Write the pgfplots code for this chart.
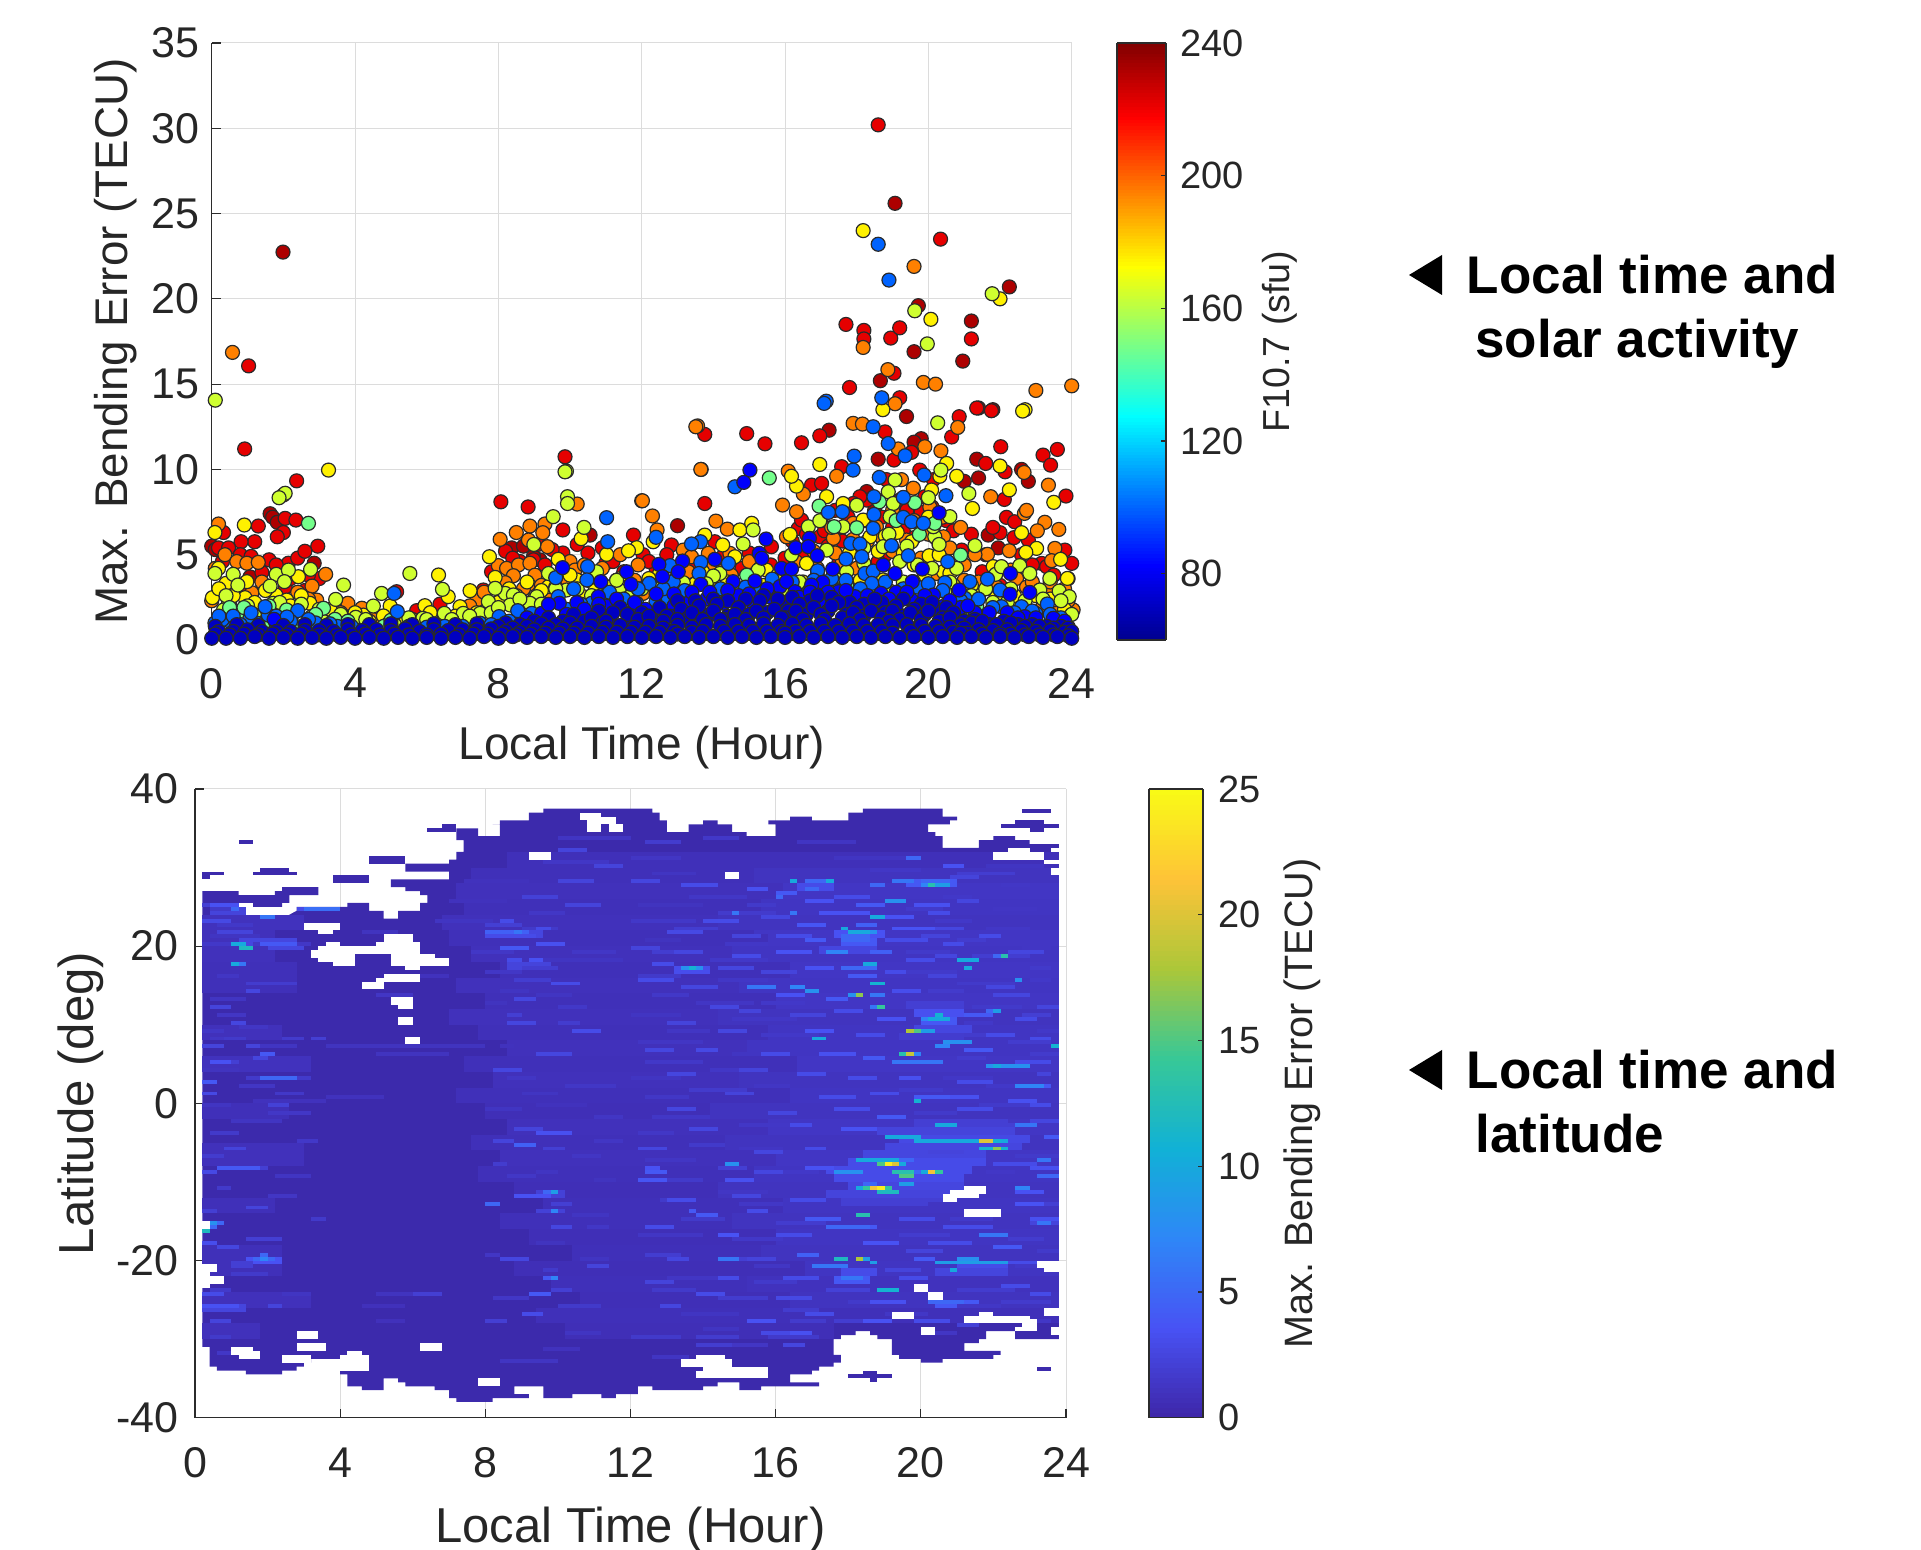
\documentclass[border=0pt]{standalone}
\usepackage{fontspec}
\setmainfont{Liberation Sans}
\usepackage{pgfplots}
\pgfplotsset{compat=1.18}
\definecolor{txt}{HTML}{262626}
\definecolor{axc}{HTML}{2B2B2B}
\definecolor{grc}{HTML}{DCDCDC}
\definecolor{edgec}{HTML}{2A2A2A}
\definecolor{basec}{HTML}{3C2AAC}
\pgfplotsset{
 colormap={matjet}{rgb255(0)=(0,0,143); rgb255(1)=(0,0,255); rgb255(3)=(0,255,255); rgb255(5)=(255,255,0); rgb255(7)=(255,0,0); rgb255(8)=(128,0,0)},
 colormap={parula}{rgb255=(62,38,168) rgb255=(72,82,244) rgb255=(46,135,247) rgb255=(17,177,214) rgb255=(55,200,151) rgb255=(171,199,57) rgb255=(254,195,56) rgb255=(249,251,21)},
 mycommon/.style={scale only axis, axis lines=left, axis line style={-,line width=.7pt,color=axc},
  tick style={color=axc,line width=.6pt}, tick align=inside, major tick length=4.5pt,
  grid=major, grid style={color=grc,line width=.5pt},
  tick label style={font=\fontsize{21.5}{25}\selectfont,color=txt},
  /pgf/number format/assume math mode=true, clip=false},
 mycbar/.style={axis lines=box, axis line style={line width=.6pt,color=axc}, tick style={color=axc,line width=.6pt},
  tick align=inside, major tick length=2.5pt, tick label style={font=\fontsize{19}{23}\selectfont,color=txt},
  /pgf/number format/assume math mode=true, xtick=\empty, ytick pos=right, yticklabel pos=right,
  at={(parent axis.north east)}, anchor=north west},
 mypts/.style={scatter, only marks, mark=*, mark size=3.5pt, scatter/use mapped color={draw=edgec,fill=mapped color}, mark options={line width=.6pt}},
 mycell/.style={scatter, only marks, mark=cell, forget plot},
}
\pgfdeclareplotmark{cell}{%
 \pgfmathsetlengthmacro\cwd{\cw*18.146pt}%
 \pgfmathsetlengthmacro\chd{\ch*3.93pt}%
 \pgfpathrectangle{\pgfpointorigin}{\pgfpoint{\cwd}{\chd}}%
 \pgfusepathqfill}
\begin{document}
\begin{tikzpicture}
\path[use as bounding box] (0pt,0pt) rectangle (960.5pt,775pt);
% ---------------- top scatter
\begin{axis}[mycommon, at={(105.85pt,455pt)}, anchor=south west, width=430pt, height=298.5pt,
 xmin=0,xmax=24,ymin=0,ymax=35, xtick={0,4,...,24}, ytick={0,5,...,35},
 xticklabel style={yshift=-10.5pt}, yticklabel style={xshift=-2.7pt},
 xlabel={Local Time (Hour)}, ylabel={Max. Bending Error (TECU)},
 every axis x label/.append style={at={(axis description cs:.5,-.18)},anchor=center,font=\fontsize{23}{27}\selectfont,text=txt},
 every axis y label/.append style={at={(axis description cs:-.1115,.5)},anchor=center,rotate=0,font=\fontsize{22.9}{27}\selectfont,text=txt},
 colormap name=matjet, point meta min=60, point meta max=240,
 colorbar sampled, colorbar shift/.style={xshift=22.65pt},
 colorbar style={mycbar, samples=181, width=24.5pt, ytick={80,120,160,200,240}, yticklabel style={xshift=3.7pt}, ylabel={F10.7 (sfu)},
  every axis y label/.style={at={(axis description cs:3.33,.5)},rotate=90,anchor=center,font=\fontsize{18.8}{23}\selectfont,text=txt}},
]
\addplot[mypts,point meta=232] coordinates {(1.99,22.74)(19.07,25.6)(22.26,20.7)(19.72,19.6)(19.6,16.9)(21.2,18.7)(20.96,16.35)(18.66,15.2)(21.4,13.6)(21.8,13.5)
(1.63,7.4)(1.7,7.2)(1.83,6.9)(2.86,4.5)(1.07,3.7)(0,5.5)(.1,5.3)(8.37,5.4)(8.7,5.5)(9.16,4.7)(8.98,4.9)(10.56,6.15)(13,6.7)(19.39,13.1)(17.23,12.3)(18.6,10.6)(19.8,11.8)(19.6,11.6)(21.35,10.6)(21.4,9.5)(21,9.3)(22.79,9.3)(21.67,6.15)(21.95,5.4)(18.28,8.7)(22.6,10)(18.5,7.6)(19.2,8.2)(17.5,6.5)(20.2,6)};
\addplot[mypts,point meta=222] coordinates {(18.6,30.2)(20.34,23.5)(17.7,18.5)(18.2,18.15)(18.2,17.65)(18.95,17.7)(19.2,18.3)(21.2,17.65)(19.04,15.64)(17.8,14.8)(19.2,14.2)(1.03,16.07)(.92,11.2)(2.37,9.33)
(8.07,8.1)(8.83,7.8)(9.8,6.45)(9.86,10.74)(1.3,6.68)(2.05,7.13)(2.35,7.03)(2,6.3)(1.83,6.05)(1.2,5.76)(.82,5.76)(2.96,5.5)(.33,6.3)(.19,5.4)(.47,5.4)(1.4,3.96)(2.14,4.5)(2.05,3.1)(2.6,2.9)(11,4.5)(10.5,5.1)(9.8,5.1)(11.77,6.15)(5.16,2.83)(5.72,1.72)(6.37,2.1)(7.58,2.93)(7.81,4)(8.6,4.6)(8.98,4.7)
(13.76,12.05)(14.93,12.1)(15.44,11.5)(16.46,11.56)(16.97,11.97)(13.76,8)(12.04,5)(12.83,5.57)(14.04,5.76)(15.62,5.47)(19.04,10.55)(18.79,12.2)(19.53,11)(16.74,9.08)(17.02,9.18)(17.58,10.16)(21.35,13.6)(21.76,13.44)(22.02,11.33)(21.6,10.35)(22.14,9.86)(23.2,10.84)(23.6,11.17)(23.41,10.25)(23.84,8.44)(22.12,8.24)(22.18,7.19)(22.41,6.93)(22,6.29)(22.39,6)(22.79,5.86)(23.16,4.49)(24,4.49)(23.81,5.27)(20.86,13.09)(20.65,11.9)(19.76,9.96)(16.37,6.54)(16.97,6.05)(16.46,7.03)(17.76,7.2)(20.93,5.27)(18.83,9.4)(18.28,8.2)(18.09,8.4)(19,6.6)(20.14,9.4)(20.42,5.3)(20.32,3.9)(23.3,4.3)(17.2,5.5)(18,5.5)(18.8,5)(19.6,6)(19.8,7.5)(18.6,4.6)(16,4.8)(17.5,4.5)(13.5,4.5)(14.8,4.2)(12.4,4.2)(11.5,4)(10.5,3.5)(21.5,4)(23,3)(22,3.2)(1,2.8)(3.5,2.2)(0.5,2.2)(8,3)(9.6,3.5)
(.3,4.6)(.8,5)(1.6,4.7)(2.4,4.8)(2.6,5.2)(1.1,4.9)(.6,3.6)(1.8,4.4)(2.2,3.6)(1.5,3)(3,3.6)(2.7,3.8)(16.2,5.8)(16.6,6.2)(17.1,6.4)(17.4,7.6)(17.9,8)(18.2,7)(18.7,7.2)(19.1,7.2)(19.4,7.6)(19.9,8.4)(20.1,7.8)(20.5,7)(20.7,6.4)(17.6,5.8)(18.9,5.9)(19.3,6.4)(20.3,5.6)(16.5,5)(15.6,4.4)(15,5.1)(14.3,5)(13.3,5.2)(12.7,5)(12.2,4.6)(11.2,4.6)(10.9,5.4)(10.2,5.6)(9.5,5.3)(9.1,5.6)(8.2,5.2)(8.4,4.8)(9.3,4.4)(21.2,6.2)(21.8,6.6)(22.6,5)(23.5,3.8)(23.9,3.6)(21.6,5)(22.9,4.4)};
\addplot[mypts,point meta=195] coordinates {(.58,16.86)(18.18,17.15)(18.87,15.85)(19.86,15.1)(20.2,15)(23,14.63)(24,14.9)(19.07,13.85)(19.6,21.9)(13.56,12.55)(13.66,10)
(2,8.5)(.19,6.8)(.37,5)(.7,4.6)(.98,4.5)(1.3,4.55)(.1,4.2)(0,2.3)(1.12,2.77)(2.8,3.16)(3.18,3.85)(2.93,2.34)(3.8,2.15)(4.19,1.86)(8.05,5.9)(8.5,6.3)(8.88,6.68)(9.3,6.8)(9.24,6.29)(8.84,5.86)(9.37,5.47)(10.2,7.97)(8,4.36)(8.23,4.2)(8.56,4.4)(8.88,4.5)(8.42,3.77)(9.02,3.8)(8.84,3.26)(8.19,3.36)(7.4,2.34)(12,8.16)(10,4.6)(10.14,4.1)(11.4,5)(11.3,3.5)(5.35,1.27)
(13.51,12.5)(13.65,10)(12.02,8.16)(12.3,7.27)(12.43,6.45)(14.07,6.97)(14.39,6.5)(15.93,7.91)(16.32,7.52)(16.09,9.9)(16.51,8.55)(17.44,9.6)(17.9,12.7)(18.16,12.66)(19.16,11.2)(19.9,11.33)(20.35,11.09)(20.82,12.46)(22.67,9.82)(23.35,9.08)(21.74,8.4)(22.68,7.42)(22.74,7.6)(23.25,6.9)(23.04,6.4)(23.64,6.48)(23.53,5.37)(22.26,5.23)(21.65,5.02)(21.3,5)(22.46,3.61)(23.44,4.65)(24.04,1.76)(23.35,2.93)(19.58,8.9)(19.25,9.4)(20.04,7.8)(20.42,6.05)(20.23,3.9)(17.35,5.96)(17.9,6.84)(19.39,5.86)(18.55,6.64)(16.04,6.05)(13.16,5.27)(13.39,4.88)(13.86,5.08)(14.46,5.08)(12.04,2.73)(22.74,3.1)(23.58,1.56)
(16.8,5.2)(17.6,4.6)(18.3,5.8)(19,7.6)(17,7)(15,4.6)(14.2,4)(13,3.8)(11.8,3.5)(10.8,3)(9.5,2.6)(7,1.2)(6,1)(4.5,1.2)(.5,1.6)(1.8,1.8)(3.2,1.5)(21,3.5)(22,2.5)(23.2,2)(23.8,3)(20.8,4.4)(19.8,4.8)
(.6,3)(1.4,3.4)(2.4,2.8)(2.7,2.4)(3.6,1.6)(4.1,1.3)(5.1,1.1)(6.5,1.4)(7.2,2)(7.6,2.8)(8.2,2.2)(8.7,3)(9.2,3.2)(9.8,3.4)(10.4,4.4)(10.9,4.2)(11.2,3.2)(11.9,4.4)(12.6,3.4)(13.3,4)(13.9,4.4)(14.5,3.8)(15.3,4.2)(15.9,3.6)(16.3,4.6)(16.9,4.2)(17.4,5.1)(18,4.2)(18.7,6)(19,5.2)(19.6,7)(20,6.2)(20.4,7.2)(20.6,5.4)(21,4.4)(21.4,3.4)(21.9,3.1)(22.3,4.1)(22.9,3.4)(23.4,3.4)(23.9,2.3)(20.9,6.6)(17.9,5.9)(17.3,6.6)};
\addplot[mypts,point meta=175] coordinates {(18.18,24)(22,20)(20.07,18.8)(22.7,13.5)(18.73,13.5)
(3.26,9.96)(.91,6.74)(.09,6.3)(.02,2.48)(.93,2.48)(.47,2.25)(.4,3.32)(.19,4.2)(.98,3.42)(2.42,3.71)(1.79,2.64)(2.74,2.15)(2.09,2.34)(6.33,3.81)(6.6,2.54)(5.95,2.01)(4.98,1.99)(7.21,2.89)(4.23,1.46)(4.79,1.41)(6.93,1.95)(7.75,4.88)(7.91,3.67)(10.31,5.94)(9.67,4.73)(11.02,5.02)(11.86,5.41)(11.63,5.23)(10.19,3.52)(9.4,3.13)(10.37,2.54)(11.4,3.6)
(22.63,13.42)(16.97,10.29)(17.16,8.4)(16.32,9.02)(16.18,9.6)(20.79,9.6)(20.32,9.6)(22,10.2)(22.26,8.8)(23.5,8.07)(21.23,7.71)(22.6,6.29)(23.02,5.37)(22.72,5.14)(23.69,4.73)(23.88,3.61)(20.02,4.94)(19.13,6.31)(19.53,5.76)(16.14,6.19)(14.26,5.57)(13.76,6.15)(14.74,6.45)(15.07,6.84)(12.32,5.76)(20.51,10.35)(20.09,8.79)(17.62,8)(18.18,7.03)(18.37,6.05)(20.42,4)(21.81,4.3)(12.5,3.9)(14.18,3.13)(15.48,4.1)(16.6,4.49)(18.74,3.52)(23.76,1.37)(14.6,4.88)(12.69,2.93)(.8,1.5)(1.5,1.6)(3,1.3)(3.9,1.2)(5.3,1)(8.5,2.6)(9,2.4)(13.5,3.3)(15.4,3.2)(17.2,3.2)(19.9,3.8)(20.7,3.2)(21.4,2.6)(22.5,2.2)(16.1,4)
(.2,3)(.6,2.6)(1.2,2.2)(1.5,2.9)(2.2,2)(2.5,2.6)(3.3,1.8)(4,1.6)(4.4,1.1)(5.6,1.2)(6.1,1.6)(6.8,1.4)(7.4,1.6)(8,2.2)(8.3,3)(8.8,3.4)(9.2,2.9)(9.6,3.1)(10,3.8)(10.7,2.9)(11.1,3.1)(11.6,3.1)(12.2,3.6)(12.9,3.1)(13.7,4)(14.4,3.4)(15,3.6)(15.8,3.8)(16.5,3.4)(16.9,3.8)(17.5,3.8)(18.1,3.5)(18.6,5.2)(19.3,5.1)(19.6,4.4)(20.3,5)(20.6,3.9)(21.2,3.2)(21.9,2.5)(22.4,2.6)(23,2.6)(23.4,2.4)(23.8,1.8)(17.8,5.1)(18.8,6.1)(20,7.2)};
\addplot[mypts,point meta=164] coordinates {(.1,14.06)(19.62,19.3)(19.97,17.36)(21.78,20.3)(9.9,9.9)(2.05,8.6)
(9.86,9.86)(9.93,8.4)(9.93,8)(1.88,8.34)(.09,3.9)(.6,3.85)(.73,3.22)(1.8,3.85)(2.14,4.1)(1.63,3.16)(2.03,3.42)(2.76,4.14)(3.68,3.22)(3.46,2.38)(5.53,3.9)(6.44,2.97)(4.74,2.73)(4.51,1.99)(4.02,1.33)(1.72,2.15)(2.79,1.37)(6.49,1.56)(5.89,1.27)(7.02,1.56)(7.49,1.56)(7.72,2.25)(8.19,2.73)(8.42,2.64)(7.91,3.03)(9.07,2.54)(8.88,2.15)(9.53,7.23)(8.99,5.6)(10.39,6.6)(9.4,3.9)(10.74,4)(11.37,2.93)(.33,1.76)(9.9,2.93)(8.33,2.05)(11.67,2.54)
(20.26,12.73)(20.35,9.96)(20,8.34)(21.13,8.59)(20.6,7.23)(20.18,6.05)(21.3,5.53)(19.07,9.38)(18.88,8.69)(19.02,8)(16.65,6.64)(16.97,6.99)(18,7.9)(15.11,6.45)(14.83,5.63)(16.18,4.98)(17.16,5.27)(17.72,4)(18.74,5.47)(22.55,4.36)(22.83,3.9)(23.39,3.61)(23.65,2.87)(23.93,2.54)(21.88,3.85)(22.04,4.3)(20.79,4.2)(20.46,2.83)(13.16,3.36)(14.18,3.9)(15.25,4.1)(14,3.75)(17.44,3.52)(19.58,3.42)(21.02,1.37)(23.11,2.93)(18.93,7.23)(20.14,6.64)(17.62,6.64)(12,3)(13,2.6)(16,3)(18.2,4.5)(19.2,4.6)(21.6,3)(22.3,3)(0.3,1.2)(1.2,1.4)(2.3,1.6)(3.1,1.1)(4.9,.9)(7.8,1.6)(10.6,2.6)(18.9,2.9)
(.4,2.6)(1,2)(1.9,2.2)(2.5,2.1)(3,1.8)(3.6,1.5)(4.3,1.2)(5.1,.9)(5.5,1.3)(6,1.2)(6.7,1.2)(7.2,1.4)(8,1.9)(8.6,2.4)(9.2,2.1)(9.6,3)(10.2,3)(10.9,2.4)(11.3,3.5)(11.9,3)(12.5,3)(13.3,2.8)(13.8,3.3)(14.6,3.1)(15.2,3.1)(15.7,3.2)(16.4,3.4)(16.8,3.1)(17.6,3)(18.5,3.1)(19.3,3.4)(19.7,4.4)(20.1,4.2)(20.6,3.4)(21.2,2.6)(21.8,2.2)(22.2,2.2)(22.7,2.3)(23.2,2.4)(23.7,2.3)(24,1.5)(18.2,5.4)(18.9,6.2)(19.4,5.5)(20.3,5.6)};
\addplot[mypts,point meta=148] coordinates {(2.7,6.84)(3.12,1.86)(.79,1.56)(2.09,1.76)(3.44,1.21)(2.37,.78)(11.38,2)(15.56,9.5)(16.95,7.85)(17.37,6.64)(18,6.58)(18.63,8.1)(19.62,8.05)(19.75,6.19)(20.18,6.84)(20.9,4.98)(21.35,2)(17.72,3.22)(14.93,3.8)(22.46,1.07)(18.79,1.95)(20.88,1.37)(13.35,1.56)(1.5,1.1)(2.8,.9)(4.8,.8)(6.2,.8)(18.3,2.4)(19.1,7)(.9,1.9)(1.6,2)(2.9,1.5)(3.8,1.1)(.5,1.9)(5,1.15)};
\addplot[mypts,point meta=100] coordinates {(18.6,23.2)(18.9,21.1)(18.7,14.2)(17.15,14)
(11.02,7.17)(11.05,5.76)(5.09,2.73)(5.18,1.66)(2.4,1.72)(10.49,4.3)(10.47,3.52)(9.6,3.65)(8.02,1.37)(8.54,1.72)(1.26,.98)(.09,1)(1.58,1.46)(1.49,1.95)(1.07,1.31)(8.93,1.56)(10.6,2.15)(11.86,2.15)(9.67,2.54)(7.49,.98)(.5,1.1)
(17.09,13.87)(18.46,12.5)(18.88,11.52)(19.35,10.8)(17.93,10.78)(17.9,9.96)(18.63,9.53)(19.88,9.67)(14.6,8.98)(18.48,8.4)(19.3,8.36)(20.49,8.46)(17.21,7.48)(17.6,7.52)(18.48,7.36)(19.3,7.19)(19.53,6.93)(19.86,6.84)(18.46,6.54)(17.83,5.66)(18.09,5.63)(18.97,5.53)(19.44,4.94)(18.14,4.88)(17.7,4.75)(12.4,6.02)(13.64,5.76)(13.39,5.63)(13.65,4.55)(14.42,4.49)(12.79,4.36)(12.21,3.32)(12.88,3.42)(12.4,2.25)(12.74,2.44)(15.64,3.57)(16.91,4.06)(18.23,3.9)(18.46,4.04)(18.42,3.32)(20.54,4.59)(20.46,3.36)(21.16,3.42)(21.65,3.57)(20.74,2.3)(21.02,2.44)(22,2.93)(22.04,1.95)(22.6,1.95)(23.32,2.11)(21.67,1.37)(23.9,.78)(23,1.56)(16.69,2.93)(3.5,.8)(4.5,.7)(6.5,.8)
(.3,1.2)(.8,.9)(1.8,.95)(2.2,1.1)(2.9,1)(3.3,.95)(3.9,.8)(5,.85)(5.5,.8)(6,.75)(7,.8)(7.8,.9)(8.3,1.1)(8.8,1.2)(9.2,1.3)(9.9,1.8)(10.3,2.1)(10.1,3)(11.1,2.8)(11.5,2.4)(11.9,3)(12.6,3)(13.2,2.9)(13.6,3.9)(14.2,3)(14.9,3.1)(15.3,2.8)(16.2,3.4)(16.8,3.5)(17.3,3.6)(17.7,3.5)(18.1,3)(18.8,3.4)(19.3,3)(19.7,3.1)(20,3.3)(20.4,2.9)(20.9,2.3)(21.4,2.4)(21.8,1.9)(22.4,1.6)(22.9,1.7)(23.4,1.5)(23.7,1.3)(.6,1.4)(1.1,1.6)(1.8,1.4)(2.1,1.35)(.2,1.4)(2.7,1.2)};
\addplot[mypts,point meta=82] coordinates {(9.79,4.24)(11.58,4)(10.86,3.42)(11.7,3.26)(10.79,2.54)(10.19,2.19)(9.7,2.15)(9.21,1.56)(9.4,2.09)(11,1.99)(11.67,1.56)(1.74,1.21)(10.67,1.41)
(15.02,9.96)(14.85,9.24)(20.3,7.46)(15.47,5.92)(16.68,5.96)(16.3,5.41)(16.65,5.47)(16.9,4.94)(15.28,5.08)(15.35,4.79)(12.48,4.43)(13.14,4.63)(14.04,4.73)(13.02,4)(12.58,3.71)(17.33,4.16)(18.74,4.39)(19.07,3.9)(19.83,4.16)(19.55,3.42)(15.16,3.46)(14.55,3.42)(13.65,3.26)(17.05,3.38)(16.74,3.22)(15.86,3.13)(22.29,3.9)(22.83,2.79)(20.86,2.93)(20.14,2.64)(18.68,2.73)(17.49,2.83)(22.28,2.68)(23.49,1.27)(22.69,1.37)(13.81,2.4)(13.35,2.25)(19.21,2.34)(19.53,2.34)(15.9,4.2)(16.18,4.16)(16.88,2.25)(14.28,2.15)(15.11,2.15)(16.04,3.42)(16.28,2.83)(20.37,1.95)(19.9,1.86)(17.95,2.54)(12.9,2)(12.1,1.8)(18.3,2)(17,2.2)(15.6,2.5)(14.7,2.6)(16,2.2)(19.1,2.8)(21.3,1.6)(20.9,1.9)(22.2,1.6)
(8.8,1.3)(9.9,1.5)(10.4,1.8)(10.8,2.1)(11.3,2.4)(11.8,2.2)(12.4,2.7)(12.9,2.7)(13.4,2.8)(13.9,2.8)(14.4,2.9)(15,2.7)(15.5,3)(16.4,2.5)(16.7,2.8)(17.2,2.8)(17.7,2.9)(18.3,2.6)(18.9,2.4)(19.4,2.8)(19.9,2.6)(20.6,2.3)(21.1,2)(21.7,1.6)(22.5,1.3)(23,1.3)(23.8,1.1)};
\addplot[mypts,point meta=70] coordinates {
(13,2.3)(13.5,2.3)(14,2.4)(14.4,2.3)(14.9,2.4)(15.4,2.6)(15.9,2.1)(16.2,2.5)(16.7,2.3)(17.3,2.5)(17.8,2.2)(18.2,2.1)(18.7,2.2)(19.3,2.4)(19.8,2.1)(20.2,1.8)(20.5,1.9)
(8.2,1)(8.6,.9)(9,1.1)(9.4,1.3)(9.8,1.1)(10.1,1.5)(10.4,1.1)(10.8,1.7)(11.1,1.3)(11.4,1.9)(11.7,1.2)(12,1.6)(12.3,1.2)(12.5,1.9)(12.8,1.4)(13.1,1.8)(13.3,1.3)(13.6,2)(13.9,1.5)(14.1,2.1)(14.4,1.4)(14.7,1.9)(15,1.5)(15.3,2.3)(15.5,1.6)(15.8,2.4)(16.1,1.7)(16.4,2.1)(16.6,1.5)(16.9,2.6)(17.2,1.7)(17.5,2.2)(17.7,1.5)(18,1.9)(18.2,1.4)(18.5,2.4)(18.8,1.6)(19.1,2)(19.3,1.4)(19.6,1.8)(19.9,1.5)(20.1,2.2)(20.4,1.3)(20.7,1.6)(21,1.1)(21.3,1.2)(21.7,.9)(22.1,1.1)(22.5,.9)(22.9,.9)(23.3,.8)(23.7,.8)
(8.4,.7)(8.8,.8)(9.2,.95)(9.6,.9)(10,1)(10.6,1.3)(10.9,1)(11.2,1.6)(11.6,1.5)(11.9,1.2)(12.2,1.4)(12.7,1.4)(13,1.2)(13.4,1.6)(13.7,1.2)(14,1.7)(14.3,1.2)(14.6,1.5)(14.9,1.2)(15.2,1.7)(15.4,1.3)(15.7,1.8)(16,1.3)(16.3,1.7)(16.5,1.2)(16.8,1.9)(17,1.5)(17.3,2)(17.6,1.3)(17.9,1.6)(18.1,1.2)(18.4,1.7)(18.7,1.3)(19,1.7)(19.2,1.2)(19.5,1.6)(19.8,1.2)(20,1.7)(20.3,1.1)(20.6,1.3)(20.9,.9)(21.2,1)(21.5,1.1)(21.9,.9)(22.3,1)(22.7,.8)(23.1,.8)(23.5,.7)(23.9,.7)
(.1,.8)(.7,.9)(1.3,.85)(2,.85)(2.6,.9)(3.2,.85)(3.8,.9)(4.4,.9)(5,.95)(5.6,.9)(6.2,.95)(6.8,.9)(7.4,.95)(8,.8)(18.9,1.1)(17.1,1.2)(15.9,1.3)(14.2,1.2)(12.6,1.1)(11,1.1)
(.2,.5)(.6,.5)(1,.6)(1.4,.5)(1.8,.5)(2.2,.5)(2.6,.55)(3,.55)(3.4,.5)(3.8,.6)(4.2,.55)(4.6,.6)(5,.55)(5.4,.65)(5.8,.5)(6.2,.6)(6.6,.55)(7,.6)(7.4,.6)(7.8,.65)(8.2,.5)(8.6,.45)(9,.6)(9.4,.7)(9.8,.65)(10.2,.7)(10.6,.8)(11,.75)(11.4,.85)(11.8,.75)(12.2,.8)(12.6,.7)(13,.85)(13.4,.75)(13.8,.9)(14.2,.8)(14.6,.9)(15,.85)(15.4,.95)(15.8,.85)(16.2,.95)(16.6,.85)(17,.95)(17.4,.85)(17.8,.95)(18.2,.85)(18.6,.9)(19,.85)(19.4,.9)(19.8,.85)(20.2,.8)(20.6,.75)(21,.7)(21.4,.6)(21.8,.55)(22.2,.6)(22.6,.55)(23,.5)(23.4,.55)(23.8,.45)(24,.5)
(.1,.35)(.5,.3)(.9,.35)(1.3,.3)(1.7,.35)(2.1,.3)(2.5,.35)(3.5,.3)(3.9,.3)(4.3,.35)(4.7,.3)(5.1,.35)(5.5,.3)(6.4,.35)(6.9,.3)(7.3,.35)(7.7,.35)(8.1,.35)(8.5,.3)(8.9,.35)(9.3,.4)(9.7,.4)(10.1,.4)(10.5,.4)(10.9,.45)(11.3,.45)(11.7,.45)(12.1,.45)(12.5,.45)(12.9,.5)(13.4,.45)(13.7,.5)(14.3,.5)(14.7,.5)(15.1,.5)(15.5,.5)(15.9,.5)(16.3,.5)(16.7,.5)(17.1,.5)(17.5,.5)(17.9,.5)(18.3,.5)(18.7,.5)(19.5,.5)(19.9,.5)(20.3,.5)(20.7,.45)(21.1,.4)(21.5,.35)(22.3,.35)(22.7,.3)(23.1,.3)(23.5,.3)(23.9,.25)
(20.9,.4)(6,.3)(3,.3)(13,.35)(16,.4)(19,.4)(22,.35)
(0,.1)(.4,.1)(.8,.1)(1.2,.2)(1.6,.1)(2,.15)(2.4,.1)(2.8,.15)(3.2,.1)(3.6,.15)(4,.1)(4.4,.15)(4.8,.1)(5.2,.15)(5.6,.1)(6,.15)(6.4,.1)(6.8,.15)(7.2,.1)(7.6,.2)(8,.1)(8.4,.2)(8.8,.15)(9.2,.2)(9.6,.15)(10,.2)(10.4,.15)(10.8,.2)(11.2,.15)(11.6,.2)(12,.15)(12.4,.2)(12.8,.15)(13.2,.2)(13.6,.15)(14,.2)(14.4,.15)(14.8,.2)(15.2,.15)(15.6,.2)(16,.15)(16.4,.2)(16.8,.15)(17.2,.2)(17.6,.15)(18,.2)(18.4,.15)(18.8,.2)(19.2,.15)(19.6,.2)(20,.15)(20.4,.2)(20.8,.15)(21.2,.2)(21.6,.15)(22,.2)(22.4,.15)(22.8,.2)(23.2,.15)(23.6,.2)(24,.1)};
\end{axis}
% ---------------- bottom heat map
\begin{axis}[mycommon, at={(97.5pt,66.15pt)}, anchor=south west, width=435.5pt, height=314.35pt,
 xmin=0,xmax=24,ymin=-40,ymax=40, xtick={0,4,...,24}, ytick={-40,-20,0,20,40}, yticklabels={-40,-20,0,20,40},
 xticklabel style={yshift=-11.5pt}, yticklabel style={xshift=-4.7pt},
 xlabel={Local Time (Hour)}, ylabel={Latitude (deg)},
 every axis x label/.append style={at={(axis description cs:.5,-.1786)},anchor=center,font=\fontsize{24.5}{28}\selectfont,text=txt},
 every axis y label/.append style={at={(axis description cs:-.1313,.5)},anchor=center,rotate=0,font=\fontsize{24.6}{28}\selectfont,text=txt},
 colormap name=parula, point meta min=0, point meta max=25,
 colorbar sampled, colorbar shift/.style={xshift=41.5pt},
 colorbar style={mycbar, samples=126, width=27pt, ytick={0,5,10,15,20,25}, yticklabel style={xshift=4.3pt}, ylabel={Max. Bending Error (TECU)},
  every axis y label/.style={at={(axis description cs:2.83,.5)},rotate=90,anchor=center,font=\fontsize{19.8}{23}\selectfont,text=txt}},
]
\addplot[draw=none,fill=basec,forget plot] coordinates {
(0.2,27)(1.2,27)(1.2,26.5)(2.2,26.5)(2.2,27)(2.4,27)(2.4,27.5)(3.4,27.5)(3.4,26.5)(2.6,26.5)(2.6,25.5)(2.4,25.5)(2.4,25)(1.6,25)(1.6,25.5)(1.2,25.5)(1.2,24.5)(1,24.5)(1,23.5)(2.4,23.5)(2.8,24.5)(2.8,25)(4.2,25)(4.2,25.5)(4.8,25.5)(4.8,24.5)(5.2,24.5)(5.2,23.5)(5.6,23.5)(5.6,24.5)(6.2,24.5)(6.2,25.5)(6.4,25.5)(6.4,26.5)(6.2,26.5)(6.2,27)(5.8,27)(5.8,27.5)(5.4,27.5)(5.4,28.5)(7,28.5)(7,29.5)(5.8,29.5)(5.8,30.5)(7,30.5)(7,31)(7.2,31)(7.2,32)(7.4,32)(7.4,33.5)(7.2,33.5)(7.2,35)(7.8,35)(7.8,34)(8.4,34)(8.4,35.5)(8.2,35.5)(8.4,35.5)(8.4,36)(9.2,36)(9.2,37)(9.6,37)(9.6,37.5)(12.6,37.5)(12.6,37)(12.8,37)(12.8,36)(13,36)(13,34.5)(13.6,34.5)(13.6,35.5)(14,35.5)(14,36)(14.4,36)(14.4,35.5)(14.8,35.5)(14.8,34.5)(15.2,34.5)(15.2,34)(16,34)(16,35.5)(15.8,35.5)(15.8,36)(16.4,36)(16.4,36.5)(17,36.5)(17,36)(18,36)(18,37)(18.4,37)(18.4,37.5)(20.6,37.5)(20.6,36.5)(21,36.5)(21,36)(20.8,36)(20.8,35.5)(20.2,35.5)(20.2,34.5)(20.4,34.5)(20.4,34)(20.6,34)(20.6,32.5)(21.6,32.5)(21.6,33.5)(22,33.5)(22,34)(22.6,34)(22.6,33.5)(23,33.5)(23,33)(23.8,33)(23.8,-29.5)(23.8,-30)(22.6,-30)(22.6,-29)(21.8,-29)(21.8,-30)(21.6,-30)(21.6,-30.5)(21.2,-30.5)(21.2,-31.5)(22.2,-31.5)(22.2,-32)(22,-32)(22,-32.5)(20.6,-32.5)(20.6,-33)(20,-33)(20,-32.5)(19.4,-32.5)(19.4,-32)(19.2,-32)(19.2,-30)(18.8,-30)(18.8,-29.5)(18.6,-29.5)(18.6,-29)(18.2,-29)(18.2,-29.5)(17.8,-29.5)(17.8,-30)(17.6,-30)(17.6,-32)(17.8,-32)(17.8,-33)(17.6,-33)(17.6,-33.5)(17.2,-33.5)(17.2,-34)(17,-34)(17,-34.5)(16.4,-34.5)(16.4,-35.5)(17.2,-35.5)(17.2,-36)(15.6,-36)(15.6,-36.5)(15,-36.5)(15,-35.5)(14.4,-35.5)(14.4,-36)(14,-36)(14,-36.5)(12.6,-36.5)(12.6,-36)(12.2,-36)(12.2,-37)(11.6,-37)(11.6,-37.5)(11.2,-37.5)(11.2,-37)(10.4,-37)(10.4,-37.5)(9.6,-37.5)(9.6,-36)(8.8,-36)(8.8,-37)(9.2,-37)(9.2,-37.5)(8.2,-37.5)(8.2,-38)(7.2,-38)(7.2,-37.5)(7,-37.5)(7,-36.5)(6.6,-36.5)(6.6,-36)(5.8,-36)(5.8,-35.5)(5.6,-35.5)(5.6,-35)(5.2,-35)(5.2,-36.5)(4.6,-36.5)(4.6,-36)(4.2,-36)(4.2,-34.5)(4,-34.5)(4,-32.5)(3.2,-32.5)(3.2,-33)(3,-33)(3,-33.5)(2.8,-33.5)(2.8,-34)(2.4,-34)(2.4,-34.5)(1.4,-34.5)(1.4,-34)(.6,-34)(.6,-33.5)(.4,-33.5)(.4,-31)(.2,-31)} -- cycle;
\addplot[mycell,point meta=explicit,scatter/use mapped color={draw=none,fill=mapped color},visualization depends on={\thisrow{w} \as \cw},visualization depends on={\thisrow{h} \as \ch}] table[row sep=\\,x=x,y=y,meta=v] {x y w h v\\
10.2 -30 7.4 2 .7\\ 9.4 -28 14.4 2 .8\\ 10.6 -26 13.2 2 .7\\ 9.8 -24 14 2 .8\\ 8.8 -22 15 2 .7\\ 10.4 -20 13.4 2 .8\\ 9.2 -18 14.6 2 .7\\ 8.4 -16 15.4 2 .8\\ 9.6 -14 14.2 2 .8\\ 8.8 -12 15 2 .7\\ 7.8 -10 16 2 .8\\ 8.4 -8 15.4 2 .9\\ 7.6 -6 16.2 2 .8\\ 8.6 -4 15.2 2 .9\\ 8 -2 15.8 2 .7\\ 7.2 0 16.6 2 .8\\ 8.2 2 15.6 2 .9\\ 7.4 4 16.4 2 .8\\ 8.6 6 15.2 2 .9\\ 7.8 8 16 2 .8\\ 7 10 16.8 2 .9\\ 8 12 15.8 2 .8\\ 7.2 14 16.6 2 .9\\ 8.4 16 15.4 2 .8\\ 7.6 18 16.2 2 .9\\ 7 20 16.8 2 .8\\ 6.8 22 17 2 .9\\ 7.4 24 16.4 2 .8\\ 7.2 26 16.6 2 .9\\ 7.6 28 16.2 2 .8\\ 8.6 30 15.2 2 .8\\
16.4 -26 7.4 2 1.1\\ 15.2 -24 8.6 2 1\\ 16.8 -22 7 2 1.2\\ 15.6 -20 8.2 2 1.1\\ 16 -18 7.8 2 1.2\\ 14.8 -16 9 2 1.1\\ 16.2 -14 7.6 2 1.2\\ 14.4 -12 9.4 2 1.1\\ 15.4 -10 8.4 2 1.2\\ 16 -8 7.8 2 1.3\\ 14.6 -6 9.2 2 1.1\\ 15.8 -4 8 2 1.3\\ 14.2 -2 9.6 2 1.1\\ 16.4 0 7.4 2 1.2\\ 15 2 8.8 2 1.1\\ 16.6 4 7.2 2 1.3\\ 15.2 6 8.6 2 1.2\\ 15.8 8 8 2 1.2\\ 14.4 10 9.4 2 1.1\\ 16 12 7.8 2 1.3\\ 15 14 8.8 2 1.2\\ 16.4 16 7.4 2 1.3\\ 14.8 18 9 2 1.2\\ 15.8 20 8 2 1.3\\ 14.4 22 9.4 2 1.1\\ 15.6 24 8.2 2 1.2\\ 16.2 26 7.6 2 1.3\\ 15.4 28 8.4 2 1.1\\
.2 14 2.6 4 .8\\ .2 18 2 4 .9\\ .2 22 2.8 2 1\\ .2 8 2.2 2 .9\\ .2 4 3 2 1\\ .2 -2 2.4 2 .8\\ .2 -8 2.8 3 .9\\ .2 -14 2 2 .8\\ .2 -26 3 2 .9\\ .2 -22 2.2 4 .8\\ .2 -30 1.6 2 .9\\
17.8 -13 2.4 1 2\\ 17.4 -12 3.4 1 2.4\\ 18 -11 3.2 1 2.6\\ 17.6 -10 3.6 1 3\\ 17.4 -9 4 1 3\\ 18 -8 3.8 1 3\\ 18.4 -7 3.4 1 2.6\\ 19 -6 3.8 1 2.6\\ 19.4 -5 3.6 1 2.8\\ 18.8 -4 3.8 1 2.4\\ 19.8 -3 2.6 1 2\\ 19.4 8 1.8 1 1.8\\ 19.8 9 1.6 1 2.6\\ 20 10 1 1 4\\ 19.8 11 1.4 1 3.4\\ 19.6 12 1.6 1 2\\ 17.8 20 1 1 4\\ 17.6 21 1.4 1 3.5\\ 17.2 19 1.6 1 2.6\\ 16.6 27 1 1 3\\ 16.8 28 .6 .5 4\\ 19.6 27.5 1.4 1 4\\ 20 28 .8 .5 5\\ 17.6 -23 1 1 4\\ 17.8 -22 1 1 3\\ 20.4 -26 1.2 1 4\\ 21 -21 1.4 1 3\\ 20.4 -22 2 1 2.5\\ 1.4 -20.5 1 1 3.5\\ 1 -21 .6 1 2\\ .2 -26.5 1.2 1 2.5\\ 1.2 20 1.6 1 2.6\\ .4 24 1 1 2.4\\ 8 21 1.6 1 2.6\\ 8.6 17 1.2 1 2.4\\ 13.2 16.5 1 1 3.2\\ 9.4 -12 .8 1 2.2\\ 9.4 -14 .8 .5 2.2\\};
\addplot[mycell,point meta=explicit,scatter/use mapped color={draw=none,fill=mapped color},visualization depends on={\thisrow{w} \as \cw},visualization depends on={0.5 \as \ch}] table[row sep=\\,x=x,y=y,meta=v] {x y w v\\
.2 25 1 2\\ .4 24.5 .8 1.6\\ .6 22.5 1 1.5\\ .4 21 1.4 1.2\\ .2 20 .8 1.5\\ 1.6 20 1.6 1.4\\ .6 16 .6 1.3\\ 1.4 15 1.4 1.8\\ 1.4 14 .4 2.6\\ .4 13 1 1.2\\ .6 11 .8 1.3\\ 1.2 9.5 .8 1.3\\ .2 9 .6 1.4\\ .4 8 .4 1.3\\ .8 8 .6 1.6\\ 2.4 8 .6 1.7\\ 3.2 8 .4 2\\ 1.6 7 1.2 1.2\\ 1.6 5.5 .4 2.5\\ .4 5 .8 2\\ .2 4 1 1.1\\ 1.4 3 1.8 1.6\\ .2 2.5 .4 2\\ 1.2 2 1 1.3\\ 2.2 1 .8 1.5\\ 3.6 .5 1.6 1\\ 1.6 0 2 1\\ .2 -.5 .8 1.2\\ 2 -1.5 1.2 1.4\\ 1 -2.5 1.4 1.2\\ .4 -4 .8 1.6\\ 2.8 -5 .6 1.5\\ .2 -7 .6 1.8\\ 1.2 -8.5 .8 2\\ 2.2 -9.5 1 1.2\\ .6 -11 .4 1.6\\ 2 -12 .8 1.3\\ .2 -14 .4 2\\ 1.4 -17.5 1 2\\ 3.2 -15 .4 1.6\\ .4 -24 .6 1.6\\ 2.4 -24.5 .8 1.2\\ .2 -26 1 1.8\\ 2 -26 .4 2.4\\ .4 -30 .6 1.6\\ .6 -32 .6 1.4\\ 4.6 -26 1.2 .9\\ 5 -24.5 1.4 1.1\\ 5 -28 .8 .9\\ 3.6 7 4.4 1.1\\ 5 6 2 1.1\\ 5.4 16 1.6 1\\ 5 13.5 1 1.3\\ 4.6 21.5 1 1.1\\ 6.6 23 1.6 1.2\\ 7 25.5 1.6 1\\ 7.4 28 1.8 1\\ 8 22.5 1 2\\ 9 22 1 1.6\\ 8 21 1.4 3\\ 9.2 24 1 1.4\\ 7.6 19 1.2 1.4\\ 9 17 1 1.9\\ 8 16.5 1 1.4\\ 10.4 19 1.2 1.4\\ 9.6 18 2.2 1.2\\ 8.8 15.5 1 1.9\\ 8.4 14 .8 1.2\\ 9.4 13.5 1 1.2\\ 8 12.5 .6 1.1\\ 10 12 .8 1.5\\ 8.6 11 .4 2\\ 10 10 .6 1.8\\ 8.4 7 .4 1\\ 8.6 3 .8 1.3\\ 10.2 2 1.4 1.4\\ 9 1 1 1.2\\ 9.4 -.5 1.4 1\\ 8 -1 1 1.2\\ 11 -2 .8 1.3\\ 8.8 -3.5 .8 2.4\\ 8.2 -5 .6 2.4\\ 11 -5 .8 1.3\\ 9.6 -6 .6 2\\ 10.4 -7 .8 1.3\\ 8.2 -8 .4 1.8\\ 9.4 -9 .6 1.2\\ 8.6 -9.5 .8 1.4\\ 11 -10 .6 1.1\\ 9.8 -13 .6 2\\ 8 -13 .4 1.6\\ 10.4 -14.5 1 1.2\\ 10.8 -16 .6 1.4\\ 9.4 -18 .8 1.1\\ 8 -19.5 .4 1.3\\ 10.6 -20 .8 1.2\\ 9.6 -21.5 .4 1.6\\ 9.8 -24 .6 2\\ 8.2 -25 1 1.4\\ 10 -26 1.2 1.6\\ 8 -28 .6 2\\ 10.2 -29.5 1 1.2\\ 8.4 -33 1.6 1.2\\ 9.6 -31.5 1 1\\ 12 31 1.4 1.3\\ 10 33.5 2 1.2\\ 9.6 30.5 1.8 1.4\\ 12.6 29 1.2 1.2\\ 13.6 26 1.6 1.4\\ 12.2 25 1.8 1.1\\ 14.4 24 1.6 1.7\\ 15.2 25 .8 1.6\\ 12 23 1.8 1.5\\ 13.2 22 1.2 1.9\\ 15.4 21.5 1.4 1.3\\ 12.4 20.5 1 1.1\\ 12.6 19 1 1.9\\ 14.6 20 1.2 1.4\\ 14.2 18 1.6 1.5\\ 12.2 16 1.2 1.6\\ 14.4 15.5 1.4 1.4\\ 16.2 15 .8 1.2\\ 12.6 13.5 1 1.5\\ 13.8 12.5 1.6 1.3\\ 15.6 12.5 1.2 1.5\\ 12 11 1.4 1.2\\ 14.8 10.5 1.8 1.4\\ 13 9 1.2 1.3\\ 15.6 8.5 1.6 1.5\\ 12.2 7.5 1.8 1.3\\ 14.8 6 1.4 1.2\\ 12.4 5 1.6 1.5\\ 14.2 4 1.4 1.4\\ 12 3 1.4 1.2\\ 13.6 1.5 1.6 1.7\\ 15.4 2 1 1.3\\ 12.4 .5 1.2 1.4\\ 14.2 -.5 1.6 1.1\\ 12.6 -2 1.6 1.4\\ 15 -3 1.6 1.4\\ 12.2 -4 1 1.4\\ 13.6 -5.5 1 1.6\\ 15 -6 1.2 1.3\\ 12.4 -7.5 1.4 1.3\\ 14.4 -8.5 .8 2\\ 15.8 -9 1.4 1.5\\ 12.2 -10 1.8 1.6\\ 14.4 -11.5 1.4 1.3\\ 12.8 -12.5 1 1.6\\ 15 -13 1.2 1.4\\ 13.4 -15 1.2 1.6\\ 16 -15.5 1.4 1.8\\ 12.2 -17 1.8 1.3\\ 14.8 -17.5 1.4 1.5\\ 12.4 -19.5 1 1.9\\ 14.6 -20 .8 2\\ 15.4 -21 1 1.3\\ 13 -22.5 1.6 1.3\\ 15.4 -23 1.2 1.6\\ 12.6 -24 1.2 1.6\\ 14.4 -25 1.4 1.8\\ 13.4 -27 1.6 1.2\\ 16.4 -28 1 1.7\\ 14 -29 1 1.2\\ 15.8 -30 1.4 1.6\\ 13.8 -31 1 1.9\\ 16.2 -26.5 1 1.8\\ 17.6 31 2 1.2\\ 16.6 33 1.6 1.2\\ 18.6 29.5 1.4 1.4\\ 21.8 30 1.6 1.2\\ 21 29 1.6 1.9\\ 20.8 28.5 .8 2.4\\ 22.2 27.5 .8 1.4\\ 20.6 26 .8 1.5\\ 21.6 25.5 1 1.2\\ 19.6 24.5 1 1.6\\ 22 24.5 1.2 1.3\\ 20.4 23 1 1.5\\ 21.8 22 1.2 1.4\\ 20 21 .8 2.4\\ 22.2 21 1 1.3\\ 21 20.5 .8 1.8\\ 22.8 19.5 .8 1.3\\ 19.6 19 1.2 1.6\\ 21.4 18.5 1.6 1.9\\ 23 17 .6 1.6\\ 19.6 16.5 1.4 1.6\\ 21 15 1.6 1.6\\ 23 15.5 .6 1.5\\ 20.2 14 1 1.7\\ 22 13.5 1 2.6\\ 21.4 12 1.4 1.6\\ 23.2 12 .6 2.5\\ 22.8 11 .8 2\\ 21.2 10 .8 1.5\\ 23.2 9 .6 1.5\\ 21.2 8.5 1.2 1.7\\ 22.4 7.5 1.2 1.8\\ 23 6 .8 1.7\\ 21 5.5 .8 1.7\\ 23.2 3.5 .4 2.4\\ 20.6 3 1.4 1.4\\ 21.8 2 .8 1.5\\ 19.4 1.5 1.2 1.6\\ 21.6 -.5 1.6 1.6\\ 19.8 -1.5 1.2 1.6\\ 23 -2.5 .8 2.6\\ 22 -3 1 2\\ 23.4 -4.5 .4 4\\ 20.2 -6.5 1 2.4\\ 22.6 -7 1.2 1.6\\ 23 -8.5 .8 3.4\\ 21.8 -9 .8 1.4\\ 22.6 -11.5 .8 3.5\\ 20 -12.5 1 2\\ 23.2 -13 .6 2\\ 20.8 -15 1.2 1.6\\ 23 -15.5 .8 2.4\\ 19.4 -17 1.4 1.8\\ 22.4 -17.5 1 1.8\\ 19.6 -19 1 2.4\\ 23.2 -19 .6 1.6\\ 19 -21.5 1 2.4\\ 22.6 -21 1 1.5\\ 17.4 -24 1.2 2.2\\ 21 -24 1.6 1.8\\ 18 -25.5 1.2 1.6\\ 22.2 -25.5 1.4 1.7\\ 19 -27 1.2 1.4\\ 21 -26 1.2 1.4\\ 17.6 -28 1.4 1.9\\ 20 -29.5 1 1.3\\ 23 -28 .6 1.4\\ 12 -30 1.4 1.6\\ 13.8 -30 1.2 1.8\\ 15.6 -29.5 .8 2.8\\ 16.2 -31 .6 2.6\\ 12.6 -32.5 1 1.2\\ 14.8 -31 1 1.3\\
12.4 33 1 1.8\\ 14 33.5 1 1.5\\ 10 32 .8 2.4\\ 12 28 .8 2.6\\ 13.4 27.5 1 3\\ 15.2 27 .6 3.4\\ 16 26.5 .6 4\\ 16.8 25.5 .8 3.5\\ 17.6 26 1 3\\ 18.2 25 .8 4\\ 19.8 25 1 3.4\\ 21 25.5 .6 2.6\\ 17.2 24 1.4 3.5\\ 18.8 23.5 1 3.6\\ 20.2 24 .6 3\\ 14 23 1 3\\ 15.6 23.5 .8 2.6\\ 16.6 22.5 .8 3.8\\ 18.2 22.5 .6 4.5\\ 19.2 22 1.2 3.6\\ 20.4 22 .8 2.6\\ 13 21.5 1 2.8\\ 14.8 21 .8 2.4\\ 16 21 1 3\\ 16.8 20.5 .6 4\\ 19 20.5 1.2 3\\ 20.6 20 .6 3\\ 21.6 21 .6 3\\ 22.4 19 1 2.6\\ 12 19.5 .8 2.4\\ 13.2 19 .8 2.6\\ 14.8 18.5 .8 3\\ 16 19 1 3.6\\ 18.6 19 .6 4.5\\ 19.6 18 .8 3\\ 20.4 18.5 .6 2.6\\ 12.6 17.5 .6 3\\ 14.4 17 1 2.6\\ 15.6 16.5 1 2.4\\ 16.8 17 .8 3.5\\ 18 16 .8 4\\ 19 16.5 .6 3\\ 20.2 16 .8 2.4\\ 12.2 15.5 1 3\\ 13.4 14.5 1 2.6\\ 16 13.5 .8 3.5\\ 17.4 13 .6 4\\ 19.2 14 .8 3.2\\ 21.8 14.5 .8 2.6\\ 14.2 12 .8 2.6\\ 15 11.5 .6 2.4\\ 16.4 11 1 2.4\\ 17.6 11.5 .8 3\\ 18.8 10.5 .8 3.5\\ 21.2 11 .8 4\\ 22.6 10.5 .6 3\\ 13 10 .8 2.4\\ 14.4 9 .8 2.6\\ 16.8 9 .8 3.5\\ 18.2 8.5 .8 3\\ 21.8 8.5 .8 3\\ 23 8 .6 3\\ 12.4 6.5 .8 2.6\\ 13.8 6.5 .6 2.8\\ 15.6 6 .8 3\\ 17.2 6 1 3.4\\ 18.4 5.5 .6 4\\ 21.2 6.5 .8 4\\ 22.6 5 1 3\\ 13 3.5 .8 2.6\\ 15 4 .8 2.4\\ 16.6 3.5 .8 3\\ 18 3 .8 3\\ 19.4 3 .6 3.4\\ 21 2.5 1 3\\ 23 2 .6 4\\ 14.6 1 .8 2.4\\ 17.2 .5 1 3\\ 18.6 1 .8 3\\ 20.8 .5 .8 3.4\\ 22.4 0 .8 3.4\\ 13 -1 .8 2.6\\ 15.8 -1.5 .8 2.6\\ 17.6 -1 1 3\\ 18.8 -2 .8 4\\ 21 -1 1 3\\ 23 -.5 .6 3\\ 13.6 -3.5 .8 2.6\\ 16.4 -3 .6 3\\ 17.8 -3.5 1 3.5\\ 12.2 -6 .8 2.6\\ 15.4 -6.5 .8 2.6\\ 16.8 -6 .6 3\\ 12.4 -9 .6 4\\ 12.2 -10 .8 3.8\\ 14.6 -10 .8 3.4\\ 15.4 -9 .8 2.6\\ 16.8 -8.5 .8 3.5\\ 22 -8 1.2 3\\ 23.2 -9.5 .6 5\\ 13 -12.5 .8 3\\ 14.8 -12 .8 2.6\\ 16.4 -12.5 1 3\\ 22.6 -13 .8 3.6\\ 13.8 -14.5 .6 4\\ 15.2 -14 .6 3\\ 16.8 -15 1 4\\ 18.2 -16 .6 4\\ 19.4 -15 1 3\\ 20.6 -16 1.4 3\\ 23 -15 .8 3.4\\ 12.4 -16 .8 3\\ 14.4 -17 .6 3.6\\ 16 -17 1 3\\ 18.4 -18 1 3.6\\ 20.2 -18 1.2 3\\ 22 -18.5 .8 4\\ 13 -20 .6 2.6\\ 15.2 -20 .8 2.4\\ 16.6 -19.5 .6 4.5\\ 19.8 -20 .6 4\\ 22.4 -20.5 1 3\\ 12.4 -23 .8 2.4\\ 14.4 -22.5 .6 3\\ 16.2 -22.5 1 3\\ 19.4 -22.5 .8 3\\ 22.2 -23.5 .8 3\\ 13.8 -24.5 .8 3\\ 16 -25 1 2.8\\ 18.6 -25.5 1 3.4\\ 23 -24.5 .6 3\\ 12.8 -26 .6 2.6\\ 16.8 -27 .8 3\\ 18.4 -28 .8 3.5\\ 19.8 -28 1 3\\ 15.2 -28 .8 3.5\\ 16.4 -29.5 .6 3.4\\ 21 -28.5 .6 2.2\\
8.4 -20 .8 2.6\\ 8.8 -12 1 3.5\\ 9.4 -4 1 3.4\\ 8.2 4 .8 2.6\\ 9.4 6 1 2.6\\ 10.4 9 .8 3\\ 8.6 10 .8 2.6\\ 8.8 13 .6 2.6\\ 9.8 15 .8 3\\ 8.4 19.5 .8 4\\ 9.4 20 .8 3.4\\ 10.2 25 1 2.4\\ 9 26 1 2.2\\ 10 28 1 2.4\\ 11 30 .8 2.4\\ 9.8 -16 .6 2.6\\ 10.8 -21 .6 2.4\\ 9 -27 .6 3\\ 6 -24.5 .8 2\\ .2 23 .8 2.8\\ .6 21.5 1 2.4\\ 2 19.5 1 2.6\\ .4 12 .6 2.4\\ 1 10 .4 2.6\\ .2 7 .6 2.4\\ 1.4 7 .4 2.4\\ .2 1 .4 2.8\\ 2 -.5 .6 2.2\\ .8 -6 .6 2.4\\ .2 -9 .4 2.8\\ 1.4 -13.5 .6 2.4\\ .2 -18 .4 3.2\\ .6 -18.5 .6 2.6\\ 1 -22 1 1.6\\ .2 -24.5 .6 3\\ .4 -28 .6 2.4\\};
\addplot[mycell,point meta=explicit,scatter/use mapped color={draw=none,fill=mapped color},visualization depends on={\thisrow{w} \as \cw},visualization depends on={0.5 \as \ch}] table[row sep=\\,x=x,y=y,meta=v] {x y w v\\
.4 25 .8 3.5\\ 1 24.5 .2 5\\ 1.8 23.5 .4 6\\ 3 24.5 1 5.5\\ 2.8 24.5 .2 3\\ 1.8 20 1 4\\ 1 20 .4 10\\ 1.2 19.5 .4 12\\ 1 17.5 .2 10\\ 1.2 17.5 .2 6\\ 1.8 3 1 5\\ 1.8 6 .4 4\\ .4 5 .6 3.5\\ .2 2.5 .4 4\\ 8 21.5 1.2 4.5\\ 8.8 21.5 .2 6\\ 8.4 23 .4 3\\ 9.4 22 .4 3\\ 9.2 18 .4 3.5\\ 8.6 18 .4 3\\
.2 -16.5 .2 12\\ .4 -16 .2 5\\ .4 -15.5 .2 8\\ .6 -15.5 .2 5\\ 1.6 -20 .6 5\\ 1.8 -20 .2 7\\ 1.8 -19.5 .2 5\\ .2 -26 1 3.5\\ .6 -8.5 1.2 4\\ 9.8 -11.5 .2 9\\ 9.6 -11.5 .2 5\\ 9.8 -14 .2 7\\ 9.8 -22.5 .2 7\\ 8 -13 .4 5\\ 9.6 -22.5 .2 4\\ 9.2 -24.5 .6 4\\ 8.8 -5.5 .6 4.5\\
16.4 28 .2 10\\ 16.8 28 .8 5\\ 17.4 28 .2 10\\ 16.8 27 .4 5\\ 19.2 28 .6 6\\ 20 27.5 .8 7\\ 20.2 27.5 .2 13\\ 20.4 27.5 .4 9\\ 18.6 27.5 .4 5\\ 19 25.5 .6 8\\ 18.6 23.5 .4 10\\ 14.8 24 .2 6\\ 16.4 24 .2 6\\ 16 26 .2 5\\ 17.8 22 .2 10\\ 18 21.5 .6 10\\ 17.8 20.5 .8 5\\ 17.8 21 .8 5\\ 18.6 21.5 .2 8\\ 17.4 19 .6 7\\ 18.4 17.5 .4 10\\ 17.8 17 1 5\\ 13.4 17 .6 8\\ 13.6 17 .2 11\\ 15.2 14.5 .8 6\\ 16.4 14.5 .4 7\\ 16.8 14 .4 8\\ 18.6 15 .4 11\\ 18 13.5 .2 8\\ 18.2 13.5 .2 17\\ 18.6 13.5 .4 6\\ 18.8 12 .2 14\\ 18.6 12 .2 6\\ 20 10.5 .8 7\\ 20.2 10.5 .6 10\\ 20.4 11 .2 11\\ 19.6 9 .2 18\\ 19.8 9 .2 15\\ 20 9 .4 9\\ 19.4 6 .2 13\\ 19.6 6 .2 19\\ 19.8 6 .2 7\\ 17 8 .4 10\\ 20.6 7.5 .8 8\\ 20.4 7 .4 7\\ 19.2 5 1.4 6\\ 21.8 4.5 1.2 8\\ 22 4.5 .2 10\\ 22.6 2 .8 7\\ 19.8 0 .2 11\\ 23.6 7 .2 11\\ 22 11.5 .2 9\\ 21.8 11.5 .2 5\\ 22.2 18.5 .2 13\\ 22 18.5 .2 5\\ 21 18 .6 10\\ 21.2 17 .2 10\\ 22.6 15.5 .2 8\\ 19.8 .5 1 4\\ 20.6 30 .6 3.5\\ 19.6 31 .4 5\\
19 -4.5 1 10\\ 19.8 -5 2.6 10\\ 21.6 -5 .4 20\\ 22 -5 .2 11\\ 20.4 -3 .6 10\\ 21.6 -6 .8 11\\ 22 -6 .2 17\\ 18.2 -7.5 1.2 10\\ 19.4 -7.5 .4 5\\ 18.8 -8 .2 15\\ 19 -8 .2 24\\ 19.2 -8 .2 20\\ 19.4 -8 .2 10\\ 17.6 -9 .8 8\\ 19.2 -9 .6 13\\ 19.4 -9.5 .4 15\\ 19.8 -9 .4 5\\ 20 -9 .2 10\\ 20.2 -9 .2 21\\ 20.4 -9 .2 14\\ 18.4 -10.5 .4 5\\ 18.2 -11 .2 10\\ 18.4 -11 .2 14\\ 18.6 -11 .2 21\\ 18.8 -11 .2 24\\ 19 -11 .2 14\\ 18.8 -11.5 .6 12\\ 19.4 -10.5 .4 9\\ 18.2 -14.5 .4 13\\ 14.6 -8 .4 8\\ 17.4 -16 1.2 5\\ 21.6 -17 .8 6\\ 17.6 -20 .4 12\\ 18.2 -20 .2 18\\ 18.4 -20 .2 9\\ 17 -21 1 6\\ 18.6 -20.5 .2 9\\ 20.4 -20.5 2 9\\ 21 -20 .6 8\\ 20.8 -21.5 .2 10\\ 18.8 -24 .6 11\\ 17.8 -22.5 .6 6\\ 20.2 -25.5 1 5\\ 22.6 -3 .6 6\\ 23.2 -7.5 .4 6\\ 22.6 -11 .4 7\\ 23.2 -15.5 .4 6\\ 14.4 -20 .6 6\\ 12.4 -8.5 .4 3.5\\ 13.6 -14 .2 4\\};
\addplot[mycell,point meta=0,scatter/use mapped color={draw=none,fill=white},visualization depends on={\thisrow{w} \as \cw},visualization depends on={\thisrow{h} \as \ch}] table[row sep=\\,x=x,y=y] {x y w h\\
10.6 36 .6 1\\ 10.8 35.5 .8 1\\ 10.8 34.5 .4 1\\ 11.4 34.5 .4 1\\ 9.2 31 .6 1\\ 3 22 1 1\\ 3.4 21.5 .4 .5\\ 5.2 20.5 .8 1\\ 5 20 1.2 .5\\ 3.4 19 2.8 1\\ 3.6 20 .4 .5\\ 3.2 18.5 .4 1\\ 3.4 18 1 1\\ 3.8 17.5 .6 .5\\ 5.4 18.5 1.2 .5\\ 5.4 17.5 1.6 1\\ 5.8 17 .4 .5\\ 5.2 15.5 1 1\\ 5 15.5 .2 .5\\ 4.6 14.5 .6 1\\ 5.4 12.5 .6 1\\ 5.6 12 .4 .5\\ 5.6 10 .4 1\\ 5.8 7.5 .4 1\\ 14.6 28.5 .4 1\\
.2 -16 .2 1\\ .2 -21.5 .4 1\\ .2 -23 .6 1\\ .2 -23.5 .2 .5\\ .2 -22 .2 .5\\ 2.8 -30 .6 1\\ 2.8 -31.5 .8 1\\ 1 -32 .6 1\\ 1.2 -32.5 .6 1\\ 6.2 -31.5 .6 1\\ 7.8 -36 .6 1\\ 2.4 -33 .8 1\\ 4 -34 .8 2\\ 4.2 -32 .4 .5\\
13.8 -32.5 .8 .5\\ 13.4 -33.5 1.4 1\\ 14 -34 1.8 .5\\ 13.8 -35 2 1\\ 21.2 -11.5 .6 1\\ 20.8 -12 .8 1\\ 20.6 -12.5 .4 1\\ 21.2 -14.5 1 1\\ 23.2 -21 .8 1\\ 23.4 -21.5 .4 .5\\ 19.8 -24 .4 1\\ 20.2 -25 .4 1\\ 19.2 -27.5 .6 1\\ 21.2 -28 1.8 1\\ 21.6 -27 .4 .5\\ 23.4 -27 .4 1\\ 22.8 -29 .4 1.5\\ 22.6 -29 .2 .5\\ 20 -29.5 .4 1\\ 23.6 -29.5 .2 1\\
22 31 1.4 1\\ 22.4 32 .6 .5\\ 23.4 30.5 .4 .5\\ 23.6 29 .2 1\\ 23.6 32 .2 .5\\};
\addplot[mycell,point meta=0,scatter/use mapped color={draw=none,fill=basec},visualization depends on={\thisrow{w} \as \cw},visualization depends on={\thisrow{h} \as \ch}] table[row sep=\\,x=x,y=y] {x y w h\\
.2 29 .6 .5\\ .2 28.5 .2 .5\\ 1.2 33 .4 .5\\ 1.6 29 1.2 .5\\ 1.8 29.5 .8 .5\\ 3.8 28 1 1\\ 4.8 30.5 1 1\\ 6.4 34.5 .8 .5\\ 6.8 35 .4 .5\\ 22.8 37 .8 .5\\ 22.6 35.5 .8 .5\\ 22.2 35 1.6 .5\\ 23 34.5 .4 .5\\ 23.2 -34 .4 .5\\ 18.4 -34.5 .4 .5\\ 18 -35 1.2 .5\\ 18.6 -35.5 .2 .5\\};
\end{axis}
% ---------------- annotations
\fill[black] (704.5pt,637.5pt) -- (721pt,647.5pt) -- (721pt,627.5pt) -- cycle;
\fill[black] (704.5pt,240pt) -- (721pt,250pt) -- (721pt,230pt) -- cycle;
\node[anchor=base west,inner sep=0pt,font=\fontsize{26.5}{30}\selectfont\bfseries] at (733.2pt,628pt) {Local time and};
\node[anchor=base west,inner sep=0pt,font=\fontsize{26.5}{30}\selectfont\bfseries] at (737.5pt,596pt) {solar activity};
\node[anchor=base west,inner sep=0pt,font=\fontsize{26.5}{30}\selectfont\bfseries] at (733.2pt,230.5pt) {Local time and};
\node[anchor=base west,inner sep=0pt,font=\fontsize{26.5}{30}\selectfont\bfseries] at (737.5pt,198.5pt) {latitude};
\end{tikzpicture}
\end{document}
